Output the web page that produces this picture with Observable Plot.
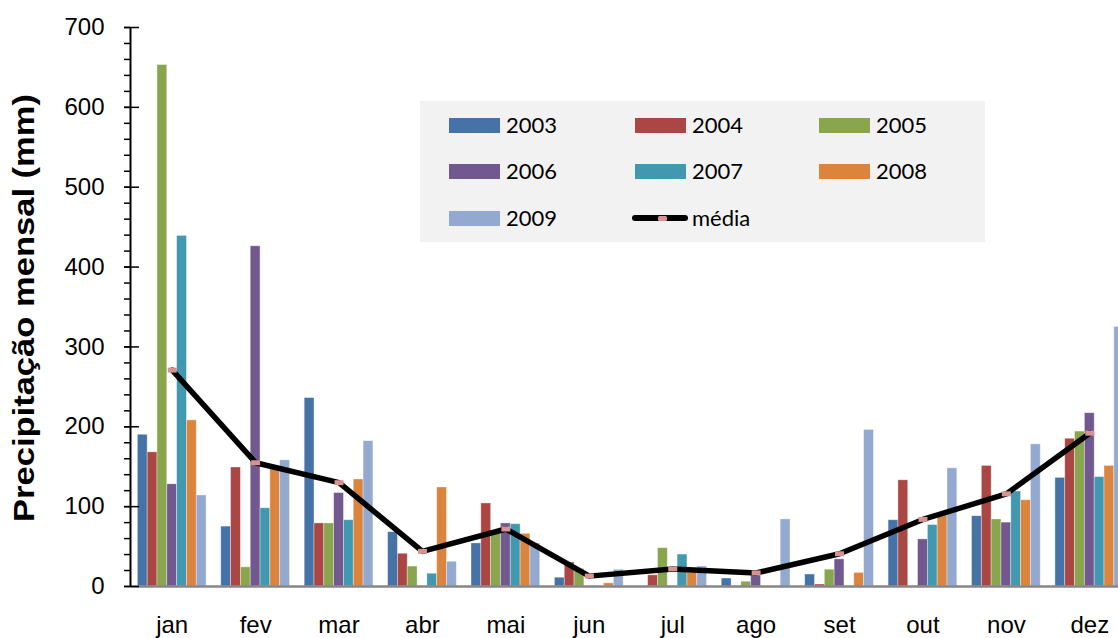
<!DOCTYPE html>
<html>
<head>
<meta charset="utf-8">
<script src="https://cdn.jsdelivr.net/npm/d3@7"></script>
<script src="https://cdn.jsdelivr.net/npm/@observablehq/plot@0.6"></script>
<style>
  html, body { margin: 0; padding: 0; background: #fff; }
  #chart { position: relative; width: 1118px; height: 638px; overflow: hidden; font-family: "Liberation Sans", Arial, sans-serif; }
  #legend { position: absolute; left: 420px; top: 101px; width: 565px; height: 141px; background: #f2f2f2; font-family: Lato, "Open Sans", sans-serif; font-size: 22px; color: #000; }
  #legend .sw { position: absolute; width: 51px; height: 15px; }
  #legend .lb { position: absolute; height: 26px; line-height: 26px; white-space: nowrap; }
  #legend .ln { position: absolute; width: 56px; height: 6px; background: #000; border-radius: 3px; }
  #legend .mk { position: absolute; width: 9px; height: 5px; background: #d69392; border-radius: 1.5px; }
</style>
</head>
<body>
<div id="chart"><div id="legend"></div></div>
<script>
// Monthly precipitation (mm), one array per year
const months = ["jan", "fev", "mar", "abr", "mai", "jun", "jul", "ago", "set", "out", "nov", "dez"];
const years = ["2003", "2004", "2005", "2006", "2007", "2008", "2009"];
const colors = ["#4572a7", "#aa4643", "#89a54e", "#71588f", "#4198af", "#db843d", "#93a9cf"];

const p2003 = [190, 75, 236, 68, 54, 11, 0, 10, 15, 83, 88, 136];
const p2004 = [168, 149, 79, 41, 104, 30, 14, 0, 2.5, 133, 151, 185];
const p2005 = [653, 24, 79, 25, 70, 22, 48, 6, 21, 0, 84, 194];
const p2006 = [128, 426, 117, 0, 79, 0, 0, 14, 34, 59, 80, 217];
const p2007 = [439, 98, 83, 16, 78, 0, 40, 0, 0, 77, 119, 137];
const p2008 = [208, 147, 134, 124, 66, 4, 23, 0, 17, 89, 108, 151];
const p2009 = [114, 158, 182, 31, 54, 21, 25, 84, 196, 148, 178, 325];
const media = [271, 155, 130, 44, 72, 13, 22, 17, 41, 84, 116, 192];

const yTicks = [0, 100, 200, 300, 400, 500, 600, 700];
const yLabel = "Precipitação mensal (mm)";

const series = [p2003, p2004, p2005, p2006, p2007, p2008, p2009];

// Bars laid out inside each month slot [i - 0.5, i + 0.5]
const GAP = 0.088;
const BW = (1 - 2 * GAP) / years.length;

const bars = series.flatMap((vals, k) =>
  vals.map((v, i) => ({month: months[i], i, year: years[k], k, value: v}))
);
const mean = media.map((v, i) => ({i, value: v}));

// Small rectangle marker used on the average line
const markerSymbol = {
  draw(ctx) {
    ctx.moveTo(-4.5, -2.5); ctx.lineTo(4.5, -2.5); ctx.lineTo(4.5, 2.5);
    ctx.lineTo(-4.5, 2.5); ctx.closePath();
  }
};

const noText = () => "";

const plot = Plot.plot({
  width: 1131,
  height: 638,
  marginLeft: 130,
  marginRight: 0,
  marginTop: 27,
  marginBottom: 52,
  style: {fontFamily: "'Liberation Sans', Arial, sans-serif", maxWidth: "none", background: "white", color: "#000"},
  x: {type: "linear", domain: [-0.5, 11.5], axis: null},
  y: {domain: [0, 700], axis: null},
  color: {domain: years, range: colors},
  marks: [
    Plot.rectY(bars, {
      x1: d => d.i - 0.5 + GAP + d.k * BW,
      x2: d => d.i - 0.5 + GAP + (d.k + 1) * BW,
      y: "value",
      fill: "year",
      stroke: "#fff",
      strokeOpacity: 0.45,
      strokeWidth: 0.8
    }),
    // x axis baseline
    Plot.ruleY([0], {stroke: "#868686", strokeWidth: 2.5}),
    // month labels
    Plot.axisX({
      ticks: d3.range(months.length),
      tickFormat: i => months[i],
      tickSize: 0,
      tickPadding: 29,
      fontSize: 24,
      label: null
    }),
    // y axis: minor ticks outside, major ticks across the line
    Plot.axisY({ticks: d3.range(0, 701, 20), tickSize: 6, tickFormat: noText, label: null, strokeWidth: 1.5}),
    Plot.axisY({ticks: yTicks, tickSize: -9, tickFormat: noText, label: null, strokeWidth: 1.5}),
    Plot.axisY({ticks: yTicks, tickSize: 6, tickPadding: 20, fontSize: 24, label: null, strokeWidth: 1.5}),
    Plot.ruleX([-0.5], {y1: 0, y2: 700, stroke: "#000", strokeWidth: 2}),
    // axis title
    Plot.text([yLabel], {
      frameAnchor: "left",
      rotate: -90,
      dx: -106,
      fontSize: 30,
      fontWeight: "bold",
      fill: "#000"
    }),
    // average line
    Plot.line(mean, {x: "i", y: "value", stroke: "#000", strokeWidth: 5.5, strokeLinejoin: "round", strokeLinecap: "round"}),
    Plot.dot(mean, {x: "i", y: "value", symbol: markerSymbol, fill: "#d69392", stroke: "none", r: 3})
  ]
});

const chart = document.getElementById("chart");
chart.insertBefore(plot, chart.firstChild);

// stretch the rotated axis title to its drawn length, starting near the bottom
d3.select(plot).selectAll("text").filter(function () { return this.textContent === yLabel; })
  .attr("text-anchor", "start")
  .attr("x", -215)
  .attr("textLength", 428)
  .attr("lengthAdjust", "spacingAndGlyphs");

// legend, three columns
const legend = d3.select("#legend");
const colX = [29, 215, 399];
const rowY = [24.3, 70.3, 117.3];
years.forEach((yr, k) => {
  const c = k % 3, r = Math.floor(k / 3);
  legend.append("div").attr("class", "sw")
    .style("left", colX[c] + "px").style("top", (rowY[r] - 7.5) + "px")
    .style("background", colors[k]);
  legend.append("div").attr("class", "lb")
    .style("left", (colX[c] + 57) + "px").style("top", (rowY[r] - 13) + "px")
    .text(yr);
});
{
  const c = 1, r = 2;
  legend.append("div").attr("class", "ln")
    .style("left", (colX[c] - 3) + "px").style("top", (rowY[r] - 3) + "px");
  legend.append("div").attr("class", "mk")
    .style("left", (colX[c] + 23) + "px").style("top", (rowY[r] - 2.5) + "px");
  legend.append("div").attr("class", "lb")
    .style("left", (colX[c] + 57) + "px").style("top", (rowY[r] - 13) + "px")
    .text("média");
}
</script>
</body>
</html>
